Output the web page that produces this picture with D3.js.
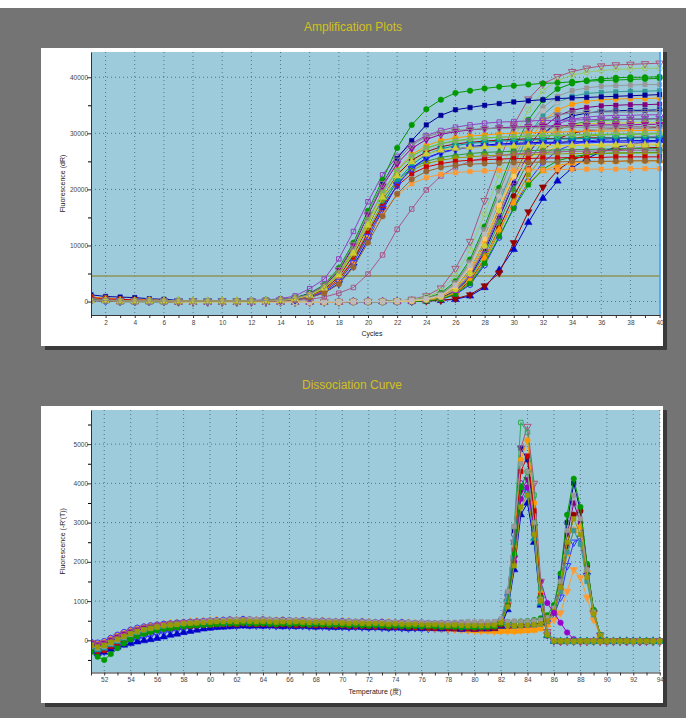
<!DOCTYPE html>
<html>
<head>
<meta charset="utf-8">
<script src="https://cdn.jsdelivr.net/npm/d3@7"></script>
<style>
body { margin: 0; background: #fff; }
svg { display: block; font-family: "Liberation Sans", Arial, sans-serif; }
</style>
</head>
<body>
<svg id="chart" width="686" height="718"></svg>
<script>
// ---------- Amplification data (fluorescence dR, in thousands) ----------
var cycles = [1,2,3,4,5,6,7,8,9,10,11,12,13,14,15,16,17,18,19,20,21,22,23,24,25,26,27,28,29,30,31,32,33,34,35,36,37,38,39,40];
var threshold = 4550;

// early group, cycles 1..40
var ampEarly = [
  [0.3,0.2,0.2,0.1,0.1,0.1,0.1,0.1,0.1,0.1,0.1,0.2,0.3, 0.5,1.0,2.3,4.0,7.6,12.5,17.8,22.6,25.9,28.2,29.6,30.5,31.1,31.5,31.8,32.0,32.1,32.2,32.3,32.3,32.4,32.4,32.5,32.5,32.5,32.6,32.6],
  [0.2,0.2,0.1,0.1,0.1,0.1,0.1,0.1,0.1,0.1,0.1,0.1,0.2, 0.3,0.7,1.5,3.0,6.0,10.5,16.2,21.7,27.4,31.5,34.3,36.0,37.2,37.6,38.0,38.3,38.5,38.7,38.9,39.0,39.2,39.3,39.4,39.5,39.6,39.7,39.8],
  [1.2,0.9,0.8,0.7,0.5,0.4,0.2,0.1,0.1,0.1,0.1,0.1,0.2, 0.3,0.6,1.4,2.8,5.5,9.8,15.5,21.0,25.5,28.7,31.5,33.2,34.2,34.6,35.0,35.3,35.6,35.8,36.0,36.2,36.3,36.4,36.5,36.6,36.7,36.8,36.9],
  [0.8,0.6,0.4,0.3,0.3,0.2,0.1,0.1,0.1,0.1,0.1,0.1,0.2, 0.3,0.5,1.2,2.5,5.0,9.0,14.2,19.5,23.5,26.2,27.8,28.7,29.2,29.5,29.7,29.9,30.0,30.1,30.2,30.2,30.3,30.3,30.4,30.4,30.5,30.5,30.5],
  [0.2,0.1,0.1,0.1,0.1,0.1,0.1,0.1,0.1,0.1,0.1,0.1,0.1, 0.2,0.4,1.0,2.2,4.4,8.3,13.4,18.6,22.6,25.2,26.7,27.6,28.1,28.4,28.6,28.8,28.9,29.0,29.0,29.1,29.1,29.2,29.2,29.2,29.3,29.3,29.3],
  [0.2,0.2,0.1,0.1,0.1,0.1,0.1,0.1,0.1,0.1,0.1,0.1,0.2, 0.3,0.5,1.1,2.4,4.8,8.7,13.6,18.2,21.6,23.8,25.0,25.7,26.1,26.4,26.6,26.7,26.8,26.9,27.0,27.0,27.1,27.1,27.2,27.2,27.3,27.3,27.3],
  [0.3,0.2,0.2,0.1,0.1,0.1,0.1,0.1,0.1,0.1,0.1,0.1,0.1, 0.2,0.3,0.7,1.6,3.2,6.3,11.0,16.3,20.8,23.8,25.6,26.6,27.2,27.6,27.9,28.1,28.2,28.3,28.4,28.4,28.5,28.5,28.6,28.6,28.7,28.7,28.7],
  [0.3,0.2,0.0,0.0,0.0,0.0,0.0,0.0,0.0,0.0,0.0,0.1,0.1, 0.2,0.4,0.9,2.0,4.0,7.6,12.6,17.6,21.2,23.4,24.6,25.2,25.6,25.8,26.0,26.1,26.2,26.2,26.3,26.3,26.4,26.4,26.4,26.5,26.5,26.5,26.5],
  [0.2,0.1,0.1,0.1,0.1,0.1,0.1,0.1,0.1,0.1,0.1,0.1,0.1, 0.1,0.2,0.4,0.8,1.5,2.5,4.9,8.3,12.9,16.5,19.9,22.4,24.0,25.0,25.6,26.0,26.3,26.5,26.6,26.7,26.8,26.8,26.9,26.9,27.0,27.0,27.0],
  [0.2,0.2,0.1,0.1,0.1,0.1,0.1,0.1,0.1,0.1,0.1,0.1,0.2, 0.3,0.6,1.3,2.7,5.3,9.4,14.6,19.6,23.4,25.9,27.3,28.1,28.6,28.9,29.1,29.3,29.4,29.5,29.6,29.7,29.7,29.8,29.8,29.9,29.9,30.0,30.0],
  [0.2,0.1,0.1,0.1,0.1,0.1,0.1,0.1,0.1,0.1,0.1,0.1,0.1, 0.2,0.4,0.9,1.9,3.8,7.2,12.0,17.2,21.5,24.4,26.2,27.2,27.8,28.2,28.4,28.6,28.7,28.8,28.9,29.0,29.0,29.1,29.1,29.2,29.2,29.2,29.2],
  [0.7,0.5,0.4,0.3,0.2,0.2,0.1,0.1,0.1,0.1,0.1,0.1,0.1, 0.2,0.4,0.9,2.0,3.9,7.4,12.2,17.0,20.6,22.8,24.0,24.6,25.0,25.2,25.3,25.4,25.5,25.5,25.6,25.6,25.7,25.7,25.7,25.8,25.8,25.8,25.8],
  [0.2,0.1,0.1,0.1,0.1,0.1,0.1,0.1,0.1,0.1,0.1,0.1,0.1, 0.2,0.4,0.9,1.9,3.8,7.0,11.5,15.8,19.0,21.0,22.1,22.7,23.0,23.2,23.3,23.4,23.4,23.5,23.5,23.5,23.6,23.6,23.6,23.6,23.7,23.7,23.7],
  [0.2,0.2,0.1,0.1,0.1,0.1,0.1,0.1,0.1,0.1,0.1,0.1,0.2, 0.3,0.6,1.3,2.8,5.6,10.0,15.4,20.6,24.6,27.3,28.9,29.8,30.3,30.6,30.8,31.0,31.1,31.2,31.3,31.3,31.4,31.4,31.5,31.5,31.5,31.6,31.6],
  [0.2,0.1,0.1,0.1,0.1,0.1,0.1,0.1,0.1,0.1,0.1,0.1,0.1, 0.2,0.4,0.8,1.8,3.6,6.9,11.6,16.6,20.8,23.7,25.5,26.5,27.1,27.5,27.7,27.9,28.0,28.1,28.2,28.2,28.3,28.3,28.4,28.4,28.4,28.5,28.5],
  [0.2,0.2,0.1,0.1,0.1,0.1,0.1,0.1,0.1,0.1,0.1,0.1,0.2, 0.3,0.5,1.2,2.6,5.1,9.2,14.4,19.4,23.3,25.9,27.4,28.2,28.7,29.0,29.2,29.3,29.4,29.5,29.6,29.6,29.7,29.7,29.8,29.8,29.8,29.9,29.9],
  [0.2,0.1,0.1,0.1,0.1,0.1,0.1,0.1,0.1,0.1,0.1,0.1,0.1, 0.2,0.3,0.7,1.5,3.1,6.1,10.5,15.2,19.2,21.8,23.2,23.9,24.3,24.5,24.6,24.7,24.8,24.8,24.9,24.9,25.0,25.0,25.0,25.0,25.1,25.1,25.1],
  [0.2,0.2,0.1,0.1,0.1,0.1,0.1,0.1,0.1,0.1,0.1,0.1,0.1, 0.2,0.5,1.1,2.4,4.7,8.6,13.6,18.6,22.4,24.9,26.3,27.0,27.3,27.5,27.6,27.7,27.7,27.8,27.8,27.8,27.8,27.9,27.9,27.9,27.9,27.9,28.0],
  [0.2,0.2,0.1,0.1,0.1,0.1,0.1,0.1,0.1,0.1,0.1,0.1,0.2, 0.3,0.6,1.3,2.9,5.7,10.1,15.6,21.0,25.2,27.9,29.4,30.1,30.5,30.7,30.8,30.9,30.9,31.0,31.0,31.0,31.1,31.1,31.1,31.1,31.2,31.2,31.2]
];

// late group: shared flat baseline for cycles 1..22, then cycles 23..40
var lateBase1 = [0.3,0.2,0.0,0.0,0.0,0.0,-0.1,-0.1,-0.1,-0.1,-0.1,-0.1,-0.1,-0.1,-0.1,-0.1,-0.1,-0.1,0.0,0.0,0.0,0.0];
var lateBase2 = [0.5,0.4,0.2,0.1,0.0,0.0,0.0,-0.1,-0.1,-0.1,-0.1,-0.1,-0.1,-0.1,-0.1,-0.1,0.0,0.0,0.0,0.0,0.0,0.1];
var ampLate = [
  lateBase1.concat([0.4,1.0,2.4,5.9,10.7,18.0,25.0,31.5,36.1,38.8,40.1,41.0,41.6,42.0,42.2,42.3,42.4,42.5]),
  lateBase2.concat([0.3,0.8,1.9,4.6,9.2,15.6,22.6,29.0,34.2,37.6,39.4,40.4,40.9,41.2,41.4,41.5,41.6,41.6]),
  lateBase1.concat([0.2,0.6,1.5,3.6,7.5,13.4,20.3,27.0,32.4,35.9,37.9,38.9,39.4,39.7,39.9,40.0,40.0,40.1]),
  lateBase2.concat([0.2,0.5,1.3,3.2,6.9,12.6,19.4,26.0,31.2,34.6,36.6,37.6,38.1,38.4,38.5,38.6,38.7,38.7]),
  lateBase1.concat([0.1,0.4,1.0,2.6,5.8,11.0,17.6,24.2,29.6,33.3,35.5,36.6,37.1,37.3,37.4,37.5,37.5,37.6]),
  lateBase2.concat([0.1,0.3,0.9,2.4,5.4,10.4,16.8,23.2,28.5,32.1,34.2,35.2,35.7,36.0,36.1,36.2,36.2,36.3]),
  lateBase1.concat([0.1,0.3,0.8,2.2,5.0,9.8,16.0,22.3,27.5,31.0,33.1,34.1,34.6,34.9,35.0,35.1,35.1,35.2]),
  lateBase2.concat([0.1,0.2,0.7,1.9,4.4,8.9,14.9,21.1,26.3,29.9,32.0,33.1,33.6,33.9,34.0,34.1,34.1,34.2]),
  lateBase1.concat([0.1,0.2,0.6,1.7,4.1,8.4,14.1,20.0,25.0,28.5,30.6,31.6,32.1,32.3,32.4,32.5,32.5,32.6]),
  lateBase2.concat([0.0,0.2,0.5,1.5,3.7,7.7,13.1,18.8,23.6,27.0,29.0,30.0,30.5,30.7,30.8,30.9,30.9,31.0]),
  lateBase1.concat([0.0,0.1,0.5,1.4,3.4,7.2,12.4,17.9,22.6,25.9,27.9,29.0,29.5,29.7,29.8,29.9,29.9,30.0]),
  lateBase2.concat([0.0,0.1,0.4,1.2,3.0,6.5,11.4,16.8,21.4,24.8,26.9,28.0,28.6,28.9,29.1,29.2,29.3,29.3]),
  lateBase1.concat([0.0,0.1,0.2,0.4,1.0,2.5,5.6,9.3,14.1,18.4,21.5,23.8,25.5,26.7,27.5,28.0,28.4,28.7]),
  lateBase2.concat([0.0,0.1,0.2,0.5,1.2,2.8,5.1,10.5,16.0,20.4,23.4,25.2,26.2,26.8,27.1,27.3,27.4,27.5]),
  lateBase1.concat([0.1,0.2,0.5,1.6,3.9,7.8,12.8,17.6,21.2,23.3,24.3,24.7,24.9,25.0,25.0,25.1,25.1,25.1]),
  lateBase2.concat([0.0,0.1,0.4,1.3,3.2,6.8,11.6,16.6,20.8,23.6,25.1,25.8,26.2,26.4,26.5,26.5,26.6,26.6]),
  lateBase1.concat([0.1,0.3,0.8,2.0,4.7,9.3,15.3,21.4,26.4,29.8,31.7,32.5,32.9,33.1,33.2,33.2,33.3,33.3]),
  lateBase2.concat([0.2,0.5,1.2,3.0,6.6,12.2,18.6,24.0,27.5,29.3,30.1,30.4,30.6,30.7,30.7,30.8,30.8,30.8]),
  lateBase1.concat([0.2,0.5,1.3,3.3,7.0,12.8,19.6,25.6,30.0,32.4,33.3,33.6,33.7,33.8,33.8,33.8,33.9,33.9]),
  lateBase2.concat([0.1,0.3,0.8,2.2,5.0,9.9,16.2,22.4,27.0,29.8,31.0,31.5,31.7,31.8,31.8,31.9,31.9,31.9]),
  lateBase1.concat([0.1,0.4,1.0,2.7,6.0,11.2,17.2,22.3,25.4,26.9,27.6,27.9,28.0,28.0,28.1,28.1,28.1,28.1]),
  lateBase2.concat([0.2,0.5,1.1,2.9,6.4,12.0,18.8,25.6,30.9,34.0,35.5,36.1,36.4,36.5,36.6,36.6,36.7,36.7])
];

// ---------- Dissociation data (-R'(T)) ----------
var temps = [51,51.5,52,52.5,53,53.5,54,54.5,55,55.5,56,56.5,57,57.5,58,58.5,59,59.5,60,60.5,
  61,61.5,62,62.5,63,63.5,64,64.5,65,65.5,66,66.5,67,67.5,68,68.5,69,69.5,70,70.5,
  71,71.5,72,72.5,73,73.5,74,74.5,75,75.5,76,76.5,77,77.5,78,78.5,79,79.5,80,80.5,
  81,81.5,82,82.5,83,83.5,84,84.5,85,85.5,86,86.5,87,87.5,88,88.5,89,89.5,90,90.5,
  91,91.5,92,92.5,93,93.5,94];

// product melting near 84 degrees
var meltA = [
  [-120,-180,-140,-60,20,90,160,220,260,300, 330,360,380,400,410,430,440,450,460,470, 480,470,490,500,480,470,490,480,470,460, 470,460,450,470,460,450,440,450,440,430, 440,430,420,440,430,420,410,420,410,400, 410,400,390,400,390,380,390,380,370,380, 380,390,480,1150,2900,5550,5300,3700,1300,180, -10,-20,-20,-30,-20,-20,-30,-20,-20,-30, -20,-20,-30,-20,-20,-30,-20],
  [-60,-100,-60,20,100,170,230,280,320,350, 380,400,420,430,450,460,470,480,490,500, 500,510,500,520,510,500,510,500,490,500, 490,480,490,480,470,480,470,460,470,460, 450,460,450,440,450,440,430,440,430,420, 430,420,410,420,410,400,410,400,390,400, 390,400,470,1000,2500,4900,5450,4000,1500,220, 0,-20,-20,-20,-30,-20,-20,-30,-20,-20, -20,-30,-20,-20,-20,-30,-20],
  [-200,-260,-220,-120,-40,40,110,170,220,260, 290,320,340,360,380,390,400,410,420,430, 430,440,430,450,440,430,440,430,420,430, 420,430,420,410,420,410,400,410,400,390, 400,390,380,390,380,370,380,370,360,370, 360,350,360,350,340,350,340,330,340,330, 340,350,430,950,2400,4600,5100,3500,1200,150, -10,-20,-30,-20,-20,-30,-20,-20,-30,-20, -20,-20,-30,-20,-20,-20,-30],
  [-100,-150,-100,-20,60,130,200,250,290,330, 360,380,400,420,430,440,450,460,470,480, 490,500,490,510,500,490,500,490,480,490, 480,490,480,470,480,470,460,470,460,450, 460,450,440,450,440,430,440,430,420,430, 420,410,420,410,400,410,400,390,400,390, 400,410,500,1200,2800,4900,4600,3200,1100,150, -20,-20,-30,-20,-20,-30,-20,-20,-30,-20, -20,-30,-20,-20,-30,-20,-20],
  [-250,-300,-260,-160,-80,0,70,130,180,220, 260,290,310,330,350,360,370,380,390,400, 400,410,400,420,410,400,410,400,390,400, 390,380,390,380,370,380,370,360,370,360, 350,360,350,340,350,340,330,340,330,320, 330,320,310,320,310,300,310,300,290,300, 300,310,390,900,2300,4300,4700,3300,1150,140, -20,-30,-20,-20,-30,-20,-20,-20,-30,-20, -20,-20,-20,-30,-20,-20,-20],
  [-150,-200,-160,-80,0,80,150,210,260,300, 340,370,390,410,430,450,460,480,490,500, 510,520,530,520,540,530,520,530,520,510, 520,510,500,510,500,490,500,490,480,490, 480,470,480,470,460,470,460,450,460,450, 460,450,440,450,440,430,440,450,440,450, 460,470,550,1250,2900,4500,4300,3000,1050,160, -10,-20,-20,-30,-20,-20,-20,-30,-20,-20, -30,-20,-20,-20,-30,-20,-20],
  [-300,-420,-500,-350,-200,-80,20,100,160,210, 250,280,300,330,350,370,380,390,400,410, 420,430,420,440,430,420,430,420,410,420, 410,420,410,400,410,400,390,400,390,380, 390,380,370,380,370,360,370,360,350,360, 350,360,350,340,350,340,330,340,330,340, 340,350,420,880,2200,3900,4300,3000,1100,130, -20,-20,-20,-30,-20,-20,-30,-20,-20,-20, -30,-20,-20,-20,-20,-30,-20],
  [-80,-120,-80,0,80,150,210,260,300,340, 370,390,410,420,440,450,460,470,480,480, 490,480,500,490,480,490,480,470,480,470, 460,470,460,450,460,450,440,450,440,430, 440,430,420,430,420,410,420,410,400,410, 400,390,400,390,380,390,380,370,380,370, 380,390,460,900,2100,3800,4100,2900,1050,140, -20,-30,-20,-20,-20,-30,-20,-20,-20,-30, -20,-20,-20,-30,-20,-20,-20],
  [-180,-240,-200,-110,-30,50,120,180,230,270, 300,330,350,370,390,400,410,420,430,440, 450,460,450,470,460,450,460,450,440,450, 440,450,440,430,440,430,420,430,420,410, 420,410,400,410,400,390,400,390,380,390, 380,370,380,370,360,370,360,350,360,350, 360,370,450,1050,2500,3900,3700,2600,950,130, -20,-20,-30,-20,-20,-20,-30,-20,-20,-20, -20,-30,-20,-20,-20,-20,-30],
  [-130,-170,-130,-50,30,100,170,230,270,310, 340,370,390,400,420,430,440,450,460,470, 470,480,470,490,480,470,480,470,460,470, 460,470,460,450,460,450,440,450,440,430, 440,430,420,430,420,410,420,410,400,410, 400,390,400,390,380,390,380,370,380,370, 380,390,450,850,1900,3400,3700,2700,1000,140, -20,-20,-20,-30,-20,-20,-20,-30,-20,-20, -20,-20,-30,-20,-20,-20,-20],
  [-280,-330,-300,-230,-170,-120,-80,-40,-10,20, 50,90,130,160,200,230,260,290,310,330, 340,350,360,370,360,370,360,370,360,350, 360,350,360,350,340,350,340,330,340,330, 340,330,320,330,320,310,320,310,300,310, 300,310,300,290,300,290,280,290,280,290, 290,300,360,780,1800,3200,3500,2500,900,120, -20,-30,-20,-20,-20,-30,-20,-20,-20,-30, -20,-20,-20,-20,-30,-20,-20],
  [-40,-60,-20,60,140,210,270,320,350,380, 400,420,430,450,460,470,480,490,500,510, 520,530,520,540,530,520,530,520,510,520, 510,500,510,500,490,500,490,480,490,480, 470,480,470,460,470,460,450,460,450,440, 450,440,430,440,430,420,430,420,410,420, 410,420,510,1150,2700,4000,3800,2700,1000,150, -20,-20,-20,-30,-20,-20,-20,-20,-30,-20, -20,-20,-20,-30,-20,-20,-20],
  [-170,-220,-180,-100,-20,60,130,190,240,280, 310,340,360,380,400,410,420,430,440,450, 460,450,470,460,450,460,450,440,450,440, 430,440,430,420,430,420,410,420,410,400, 410,400,390,400,390,380,390,380,370,380, 370,360,370,360,350,360,350,340,350,340, 350,360,440,880,2000,3600,3900,2800,1500,950, 700,450,200,30,-10,-20,-20,-20,-30,-20, -20,-20,-20,-30,-20,-20,-20]
];

// product melting near 87.5 degrees
var meltB = [
  [-200,-280,-220,-120,-40,40,110,170,210,250, 280,300,320,340,350,360,370,380,390,400, 410,400,420,410,400,410,400,390,400,390, 380,390,380,370,380,370,360,370,360,350, 360,350,340,350,340,330,340,330,320,330, 330,340,350,360,370,380,390,400,410,420, 430,440,450,460,470,480,490,520,560,640, 900,1700,3200,4120,3400,1950,780,140,-10,-20, -20,-30,-20,-20,-20,-30,-20],
  [-120,-160,-110,-30,50,120,190,240,280,320, 350,370,390,410,420,430,440,450,460,470, 480,470,490,480,470,480,470,460,470,460, 450,460,450,440,450,440,430,440,430,420, 430,420,410,420,410,400,410,400,390,400, 390,380,390,380,370,380,370,360,370,360, 370,360,370,380,370,380,390,400,430,500, 800,1600,3000,4000,3300,1900,750,130,-10,-20, -20,-20,-30,-20,-20,-20,-30],
  [-160,-210,-170,-90,-10,70,140,200,250,290, 330,360,380,400,420,440,450,470,480,490, 500,510,520,510,530,520,510,520,510,500, 510,500,490,500,490,480,490,480,470,480, 470,460,470,460,450,460,450,440,450,440, 450,440,430,440,450,460,470,480,470,480, 470,480,470,480,490,480,490,500,520,580, 820,1500,2800,3700,3100,1800,720,130,-10,-20, -20,-20,-20,-30,-20,-20,-20],
  [-90,-130,-90,-10,70,140,200,250,290,330, 360,380,400,410,430,440,450,460,470,480, 490,480,500,490,480,490,480,470,480,470, 460,470,460,450,460,450,440,450,440,430, 440,430,420,430,420,410,420,410,400,410, 400,390,400,390,380,390,380,370,380,370, 380,370,380,390,380,390,400,410,440,510, 780,1450,2700,3500,3000,1750,700,120,-10,-20, -20,-30,-20,-20,-20,-20,-30],
  [-240,-290,-250,-150,-70,10,80,140,190,230, 270,300,320,340,360,370,380,390,400,410, 410,420,410,430,420,410,420,410,400,410, 400,390,400,390,380,390,380,370,380,370, 360,370,360,350,360,350,340,350,340,330, 320,310,320,310,300,310,300,290,300,290, 300,290,300,310,300,310,320,340,380,460, 700,1300,2400,3200,3300,1900,760,140,-10,-20, -20,-20,-20,-30,-20,-20,-20],
  [-110,-160,-120,-40,40,110,180,230,270,310, 340,360,380,390,410,420,430,440,450,460, 460,470,460,480,470,460,470,460,450,460, 450,460,450,440,450,440,430,440,430,420, 430,420,410,420,410,400,410,400,390,400, 390,380,390,380,370,380,370,360,370,360, 370,360,370,380,370,380,390,400,420,490, 740,1350,2500,3100,2700,1600,680,120,-10,-20, -20,-20,-30,-20,-20,-20,-20],
  [-60,-90,-50,30,110,180,240,290,330,360, 390,410,430,440,460,470,480,490,500,510, 510,520,510,530,520,510,520,510,500,510, 500,490,500,490,480,490,480,470,480,470, 460,470,460,450,460,450,440,450,440,430, 330,320,310,300,290,280,270,260,250,240, 240,230,230,240,230,240,250,260,300,400, 720,1250,2200,2800,2900,1800,730,130,-10,-20, -20,-20,-20,-20,-30,-20,-20],
  [-140,-190,-150,-70,10,80,150,200,250,290, 320,350,370,390,400,420,430,440,450,460, 470,480,470,490,480,470,480,470,460,470, 460,450,460,450,440,450,440,430,440,430, 420,430,420,410,420,410,400,410,400,390, 400,390,380,390,380,370,380,370,360,370, 360,370,360,370,360,370,380,390,410,470, 700,1250,2250,2800,2450,1500,650,120,-10,-20, -20,-20,-20,-30,-20,-20,-20],
  [-260,-320,-280,-200,-130,-70,-20,30,80,120, 160,200,230,260,290,310,330,350,360,370, 380,390,380,400,390,380,390,380,370,380, 370,380,370,360,370,360,350,360,350,340, 350,340,330,340,330,320,330,320,310,320, 310,300,310,300,290,300,290,280,290,280, 290,280,290,300,290,300,310,320,350,420, 620,1100,1900,2500,2600,1650,700,130,-10,-20, -20,-30,-20,-20,-20,-20,-20],
  [-100,-140,-100,-20,60,130,190,240,280,320, 350,370,390,400,420,430,440,450,460,470, 470,480,470,490,480,470,480,470,460,470, 460,450,460,450,440,450,440,430,440,430, 420,430,420,410,420,410,400,410,400,390, 330,320,310,300,290,280,270,260,250,240, 240,230,240,230,240,250,260,280,320,400, 520,700,1250,1800,1600,1100,520,110,-10,-20, -20,-20,-20,-20,-20,-30,-20]
];

// ---------- series styles ----------
var earlyStyles = [
  {c: "#9040c0", s: "square", o: true}, {c: "#009900", s: "circle"}, {c: "#000099", s: "square"},
  {c: "#ff9900", s: "circle"}, {c: "#990000", s: "circle"}, {c: "#339933", s: "triUp"},
  {c: "#0000cc", s: "triDown"}, {c: "#999900", s: "square"}, {c: "#aa5588", s: "square", o: true},
  {c: "#999999", s: "square"}, {c: "#009999", s: "triDown"}, {c: "#cc0000", s: "square"},
  {c: "#ff9933", s: "square"}, {c: "#990099", s: "triDown"}, {c: "#3333ff", s: "triDown", o: true},
  {c: "#66cc33", s: "circle", o: true}, {c: "#996633", s: "circle"}, {c: "#cccc33", s: "triUp"},
  {c: "#888888", s: "triDown", o: true}
];
var lateStyles = [
  {c: "#aa5577", s: "triDown", o: true}, {c: "#99cc66", s: "circle", o: true}, {c: "#009900", s: "circle"},
  {c: "#999999", s: "square"}, {c: "#339999", s: "square"}, {c: "#ff9900", s: "circle"},
  {c: "#800080", s: "square"}, {c: "#000099", s: "square"}, {c: "#339933", s: "triUp"},
  {c: "#990000", s: "circle"}, {c: "#999900", s: "square"}, {c: "#3333ff", s: "circle", o: true},
  {c: "#0000cc", s: "triUp"}, {c: "#990000", s: "triDown"}, {c: "#ff9900", s: "triUp"},
  {c: "#009900", s: "square"}, {c: "#9040c0", s: "triUp", o: true}, {c: "#aaaaaa", s: "triDown"},
  {c: "#888888", s: "triDown", o: true}, {c: "#cccc33", s: "circle"}, {c: "#ffcc66", s: "square"},
  {c: "#bbbbbb", s: "square"}
];
var meltAStyles = [
  {c: "#33aa55", s: "square", o: true}, {c: "#aa5577", s: "triDown", o: true}, {c: "#ff9900", s: "circle"},
  {c: "#000099", s: "square"}, {c: "#cc0000", s: "square"}, {c: "#999999", s: "square"},
  {c: "#009900", s: "circle"}, {c: "#990099", s: "triDown"}, {c: "#009999", s: "triUp"},
  {c: "#999900", s: "square"}, {c: "#0000cc", s: "triUp"}, {c: "#3333ff", s: "circle", o: true},
  {c: "#9900cc", s: "circle"}
];
var meltBStyles = [
  {c: "#009900", s: "circle"}, {c: "#000099", s: "square"}, {c: "#999999", s: "square"},
  {c: "#800080", s: "square"}, {c: "#990000", s: "circle"}, {c: "#999900", s: "square"},
  {c: "#ff9900", s: "triUp"}, {c: "#339999", s: "square"}, {c: "#3333ff", s: "triDown", o: true},
  {c: "#ff9933", s: "triDown"}
];
// drawing order (bottom to top) so that gray / olive / green marks end up on top, as in the original
var meltADrawOrder = [10, 11, 12, 3, 7, 1, 0, 2, 4, 8, 6, 5, 9];
var meltBDrawOrder = [8, 3, 1, 4, 9, 6, 7, 0, 2, 5];

var svg = d3.select("#chart");
var fontTick = 6.5;

// page background
svg.append("rect").attr("width", 686).attr("height", 718).attr("fill", "#747474");
svg.append("rect").attr("width", 686).attr("height", 8).attr("fill", "#ffffff");

function symbolFor(st) {
  var type = st.s === "circle" ? d3.symbolCircle : (st.s === "square" ? d3.symbolSquare : d3.symbolTriangle);
  return d3.symbol().type(type).size(st.s === "square" ? 20 : 24)();
}

function drawChart(cfg) {
  var p = cfg.panel, a = cfg.plot;
  // panel with shadow
  svg.append("rect").attr("x", p.x + 4).attr("y", p.y + 4).attr("width", p.w).attr("height", p.h).attr("fill", "#3a3a3a");
  svg.append("rect").attr("x", p.x).attr("y", p.y).attr("width", p.w).attr("height", p.h).attr("fill", "#ffffff");

  svg.append("text")
    .attr("x", cfg.titleX).attr("y", cfg.titleY)
    .attr("text-anchor", "middle")
    .style("font-size", "12px").style("fill", "#d2c01e")
    .text(cfg.title);

  var x = d3.scaleLinear().domain(cfg.xDomain).range([a.x0, a.x1]);
  var y = d3.scaleLinear().domain(cfg.yDomain).range([a.y1, a.y0]);

  var g = svg.append("g");
  g.append("rect").attr("x", a.x0).attr("y", a.y0).attr("width", a.x1 - a.x0).attr("height", a.y1 - a.y0).attr("fill", "#9ecbdb");

  // grid
  g.selectAll(".vg").data(cfg.xGrid).enter().append("line")
    .attr("x1", d => x(d)).attr("x2", d => x(d)).attr("y1", a.y0).attr("y2", a.y1)
    .attr("stroke", "#3c5866").attr("stroke-width", 1).attr("stroke-dasharray", "1,3").attr("opacity", 0.75);
  g.selectAll(".hg").data(cfg.yMajor).enter().append("line")
    .attr("x1", a.x0).attr("x2", a.x1).attr("y1", d => y(d)).attr("y2", d => y(d))
    .attr("stroke", "#3c5866").attr("stroke-width", 1).attr("stroke-dasharray", "1,3").attr("opacity", 0.75);

  var clipId = "clip" + cfg.id;
  svg.append("clipPath").attr("id", clipId).append("rect")
    .attr("x", a.x0).attr("y", a.y0 - 2).attr("width", a.x1 - a.x0 + 3).attr("height", a.y1 - a.y0 + 2);

  var plot = svg.append("g").attr("clip-path", "url(#" + clipId + ")");
  if (cfg.before) cfg.before(plot, x, y);

  var line = d3.line().x(d => x(d[0])).y(d => y(d[1]));
  cfg.series.forEach(function(sr) {
    var pts = sr.xs.map((v, i) => [v, sr.ys[i] * cfg.unit]);
    var sg = plot.append("g");
    sg.append("path").attr("d", line(pts)).attr("fill", "none").attr("stroke", sr.st.c).attr("stroke-width", 1);
    var path = symbolFor(sr.st);
    sg.selectAll("path.m").data(pts).enter().append("path").attr("class", "m")
      .attr("d", path)
      .attr("transform", d => "translate(" + x(d[0]) + "," + y(d[1]) + ")" + (sr.st.s === "triDown" ? " rotate(180)" : ""))
      .attr("fill", sr.st.o ? "none" : sr.st.c)
      .attr("stroke", sr.st.c).attr("stroke-width", sr.st.o ? 1 : 0.5);
  });
  if (cfg.after) cfg.after(plot, x, y);

  // axes
  var yAx = svg.append("g").attr("transform", "translate(" + a.x0 + ",0)")
    .call(d3.axisLeft(y).tickValues(cfg.yMajor).tickSize(4).tickSizeOuter(0).tickFormat(d3.format("d")));
  svg.append("g").attr("transform", "translate(" + a.x0 + ",0)")
    .call(d3.axisLeft(y).tickValues(cfg.yMinor).tickSize(3).tickSizeOuter(0).tickFormat(""))
    .select(".domain").remove();
  var xAx = svg.append("g").attr("transform", "translate(0," + a.y1 + ")")
    .call(d3.axisBottom(x).tickValues(cfg.xTicks).tickSize(3).tickSizeOuter(0)
      .tickFormat(d => cfg.xLabels.indexOf(d) >= 0 ? d : ""));
  [yAx, xAx].forEach(function(ax) {
    ax.select(".domain").attr("stroke", "#333");
    ax.selectAll(".tick line").attr("stroke", "#333");
    ax.selectAll("text").style("font-size", fontTick + "px").style("fill", "#444")
      .style("font-family", "'Liberation Sans', Arial, sans-serif");
  });
  yAx.selectAll("text").attr("x", -3);
  xAx.selectAll("text").attr("y", 5);

  svg.append("text")
    .attr("transform", "translate(" + (a.x0 - 26) + "," + ((a.y0 + a.y1) / 2) + ") rotate(-90)")
    .attr("text-anchor", "middle").style("font-size", "7px").style("fill", "#222")
    .text(cfg.yLabel);
  svg.append("text")
    .attr("x", cfg.xLabelX).attr("y", a.y1 + cfg.xLabelDy)
    .attr("text-anchor", "middle").style("font-size", "7px").style("fill", "#222")
    .text(cfg.xLabel);
}

// ---------- Amplification Plots ----------
var ampSeries = [];
ampLate.forEach((ys, i) => ampSeries.push({xs: cycles, ys: ys, st: lateStyles[i]}));
ampEarly.forEach((ys, i) => ampSeries.push({xs: cycles, ys: ys, st: earlyStyles[i]}));

drawChart({
  id: "amp",
  title: "Amplification Plots", titleX: 353, titleY: 31,
  panel: {x: 41, y: 48, w: 622, h: 298},
  plot: {x0: 91, x1: 660, y0: 52, y1: 315},
  xDomain: [1, 40.03], yDomain: [-2400, 44500],
  xGrid: [2,4,6,8,10,12,14,16,18,20,22,24,26,28,30,32,34,36,38],
  xTicks: cycles, xLabels: [2,4,6,8,10,12,14,16,18,20,22,24,26,28,30,32,34,36,38,40],
  yMajor: [0,10000,20000,30000,40000], yMinor: [5000,15000,25000,35000],
  unit: 1000,
  series: ampSeries,
  before: function(g, x, y) {
    g.append("line").attr("x1", x(1)).attr("x2", x(40)).attr("y1", y(threshold)).attr("y2", y(threshold))
      .attr("stroke", "#8c9456").attr("stroke-width", 1.6);
  },
  after: function(g, x, y) {
    g.append("line").attr("x1", x(40) + 0.5).attr("x2", x(40) + 0.5).attr("y1", 52).attr("y2", 315)
      .attr("stroke", "#3399ff").attr("stroke-width", 1.5);
  },
  yLabel: "Fluorescence (dR)",
  xLabel: "Cycles", xLabelX: 372, xLabelDy: 21
});

// ---------- Dissociation Curve ----------
var meltSeries = [];
meltBDrawOrder.forEach(i => meltSeries.push({xs: temps, ys: meltB[i], st: meltBStyles[i]}));
meltADrawOrder.forEach(i => meltSeries.push({xs: temps, ys: meltA[i], st: meltAStyles[i]}));

drawChart({
  id: "melt",
  title: "Dissociation Curve", titleX: 352, titleY: 389,
  panel: {x: 41, y: 406, w: 622, h: 297},
  plot: {x0: 91, x1: 660, y0: 410, y1: 672.5},
  xDomain: [51, 94.02], yDomain: [-820, 5870],
  xGrid: [52,54,56,58,60,62,64,66,68,70,72,74,76,78,80,82,84,86,88,90,92,94],
  xTicks: [51,52,53,54,55,56,57,58,59,60,61,62,63,64,65,66,67,68,69,70,71,72,73,74,75,76,77,78,79,80,81,82,83,84,85,86,87,88,89,90,91,92,93,94],
  xLabels: [52,54,56,58,60,62,64,66,68,70,72,74,76,78,80,82,84,86,88,90,92,94],
  yMajor: [0,1000,2000,3000,4000,5000], yMinor: [-500,500,1500,2500,3500,4500,5500],
  unit: 1,
  series: meltSeries,
  yLabel: "Fluorescence (-R'(T))",
  xLabel: "Temperature (度)", xLabelX: 375, xLabelDy: 21
});
</script>
</body>
</html>
